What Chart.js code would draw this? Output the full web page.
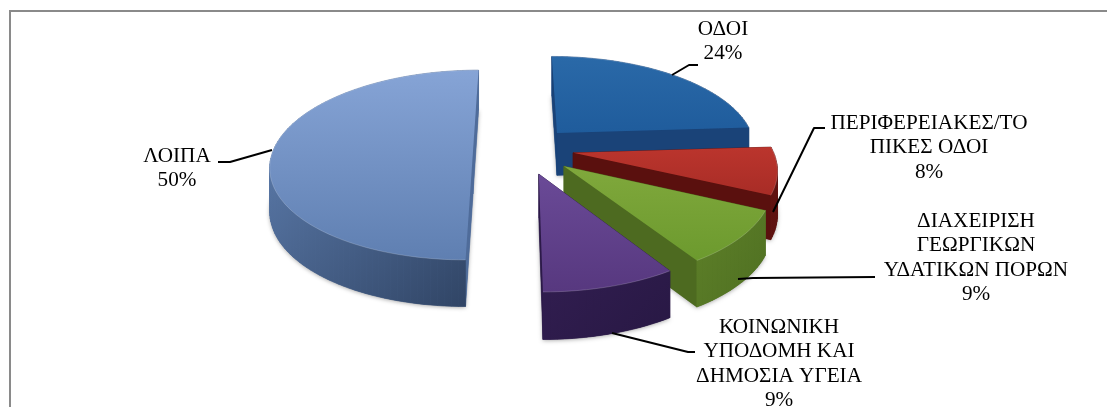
<!DOCTYPE html>
<html lang="el">
<head>
<meta charset="utf-8">
<script src="https://cdn.jsdelivr.net/npm/chart.js@4"></script>
<style>
html,body{margin:0;padding:0;background:#fff;overflow:hidden}
#frame{position:absolute;left:9px;top:10px;width:1200px;height:500px;border:2px solid #8a8a8a;box-sizing:border-box}
canvas{position:absolute;left:0;top:0}
</style>
</head>
<body>
<div id="frame"></div>
<canvas id="c" width="1107" height="407"></canvas>
<script>
const categories = ['ΟΔΟΙ','ΠΕΡΙΦΕΡΕΙΑΚΕΣ/ΤΟΠΙΚΕΣ ΟΔΟΙ','ΔΙΑΧΕΙΡΙΣΗ ΓΕΩΡΓΙΚΩΝ ΥΔΑΤΙΚΩΝ ΠΟΡΩΝ','ΚΟΙΝΩΝΙΚΗ ΥΠΟΔΟΜΗ ΚΑΙ ΔΗΜΟΣΙΑ ΥΓΕΙΑ','ΛΟΙΠΑ'];
const shares = [24, 8, 9, 9, 50];

const labelLines = [['ΟΔΟΙ'],['ΠΕΡΙΦΕΡΕΙΑΚΕΣ/ΤΟ','ΠΙΚΕΣ ΟΔΟΙ'],['ΔΙΑΧΕΙΡΙΣΗ','ΓΕΩΡΓΙΚΩΝ','ΥΔΑΤΙΚΩΝ ΠΟΡΩΝ'],['ΚΟΙΝΩΝΙΚΗ','ΥΠΟΔΟΜΗ ΚΑΙ','ΔΗΜΟΣΙΑ ΥΓΕΙΑ'],['ΛΟΙΠΑ']];
const labelAnchors = [[723,29],[929,123],[976,221],[779,327],[177,156]];
const leaders = [
  [[672,75],[689,65],[698,65]],
  [[773,212],[814,128],[825,128]],
  [[738,279],[753,278],[875,277]],
  [[612,333],[688,352],[695,352]],
  [[272,150],[230,162],[218,162]]
];
const explode = [[.211,-.2],[.285,.02],[.234,.16],[.11,.24],[-.215,0]];
const topColors = [['#2a69a8','#1f5c9c'],['#bb352d','#a82c26'],['#80a83c','#6c9a2e'],['#6a4a97','#57387f'],['#86a4d6','#5f7fb1']];
const wallColors = [['#1c4880','#173a68'],['#74181a','#5e1210'],['#6f9230','#4f7022'],['#352055','#281844'],['#5f7fb0','#2f4363']];
const edgeColors = ['#1a4378','#5a100e','#4d6a20','#2c1a48','#4f6c9a'];
const G = 0.148, VY = -476;

const pie3d = {
  id:'pie3d',
  beforeDatasetDraw(chart){
    const ctx = chart.ctx, arcs = chart.getDatasetMeta(0).data;
    const cx = arcs[0].x, cy = arcs[0].y, R = arcs[0].outerRadius, D = cy - VY;
    const proj = (u,v)=>{const s=1/(1-G*v);return {x:cx+R*u*s,y:VY+D*s,s};};
    const order = [4,0,1,2,3];
    order.forEach(i=>{
      const a = arcs[i], [ex,ey] = explode[i];
      const st = a.startAngle, en = a.endAngle, n = Math.max(8,Math.round((en-st)/0.03));
      const pts = [proj(ex,ey)];
      for(let k=0;k<=n;k++){const t=st+(en-st)*k/n;pts.push(proj(ex+Math.cos(t),ey+Math.sin(t)));}
      const low = p=>({x:p.x,y:p.y+43*Math.sqrt(p.s)});
      const xs = pts.map(p=>p.x), ys = pts.map(p=>p.y);
      const minX=Math.min(...xs),maxX=Math.max(...xs),minY=Math.min(...ys),maxY=Math.max(...ys);
      ctx.save();
      ctx.shadowColor='rgba(0,0,0,.35)';ctx.shadowBlur=4;ctx.shadowOffsetY=1;
      ctx.fillStyle=edgeColors[i];
      ctx.beginPath();
      pts.forEach((p,k)=>{const l=low(p);k?ctx.lineTo(l.x,l.y):ctx.moveTo(l.x,l.y);});
      ctx.closePath();ctx.fill();
      ctx.restore();
      const wg = ctx.createLinearGradient(minX,minY+30,maxX,maxY+45);
      wg.addColorStop(0,wallColors[i][0]);wg.addColorStop(1,wallColors[i][1]);
      const quads=[[pts[0],pts[1],edgeColors[i]],[pts[pts.length-1],pts[0],edgeColors[i]]];
      for(let k=1;k<pts.length-1;k++) quads.push([pts[k],pts[k+1],wg]);
      quads.sort((A,B)=>(A[0].y+A[1].y)-(B[0].y+B[1].y));
      quads.forEach(([p,q,c])=>{const lp=low(p),lq=low(q);ctx.fillStyle=c;ctx.strokeStyle=c;ctx.lineWidth=.6;
        ctx.beginPath();ctx.moveTo(p.x,p.y);ctx.lineTo(q.x,q.y);ctx.lineTo(lq.x,lq.y);ctx.lineTo(lp.x,lp.y);ctx.closePath();ctx.fill();ctx.stroke();});
      const tg = ctx.createLinearGradient(0,minY,0,maxY);
      tg.addColorStop(0,topColors[i][0]);tg.addColorStop(1,topColors[i][1]);
      ctx.fillStyle=tg;
      ctx.beginPath();
      pts.forEach((p,k)=>k?ctx.lineTo(p.x,p.y):ctx.moveTo(p.x,p.y));
      ctx.closePath();ctx.fill();
      ctx.strokeStyle='rgba(255,255,255,.18)';ctx.lineWidth=1;
      ctx.beginPath();
      pts.slice(1).forEach((p,k)=>k?ctx.lineTo(p.x,p.y):ctx.moveTo(p.x,p.y));
      ctx.stroke();
    });
    return false;
  },
  afterDraw(chart){
    const ctx = chart.ctx, data = chart.data.datasets[0].data;
    ctx.save();
    ctx.strokeStyle='#000';ctx.lineWidth=2;ctx.lineJoin='round';
    leaders.forEach(l=>{ctx.beginPath();l.forEach((p,k)=>k?ctx.lineTo(p[0],p[1]):ctx.moveTo(p[0],p[1]));ctx.stroke();});
    ctx.fillStyle='#000';ctx.font='21.2px "Liberation Serif"';ctx.textAlign='center';ctx.textBaseline='middle';
    labelLines.forEach((lines,i)=>{
      const [x,y]=labelAnchors[i];
      [...lines,data[i]+'%'].forEach((t,k)=>ctx.fillText(t,x,y+k*24.5));
    });
    ctx.restore();
  }
};

new Chart(document.getElementById('c'),{
  type:'pie',
  data:{labels:categories,datasets:[{data:shares,borderWidth:0}]},
  options:{
    responsive:false,animation:false,radius:200,
    layout:{padding:{left:0,right:75,top:0,bottom:105}},
    plugins:{legend:{display:false},tooltip:{enabled:false}}
  },
  plugins:[pie3d]
});
</script>
</body>
</html>
